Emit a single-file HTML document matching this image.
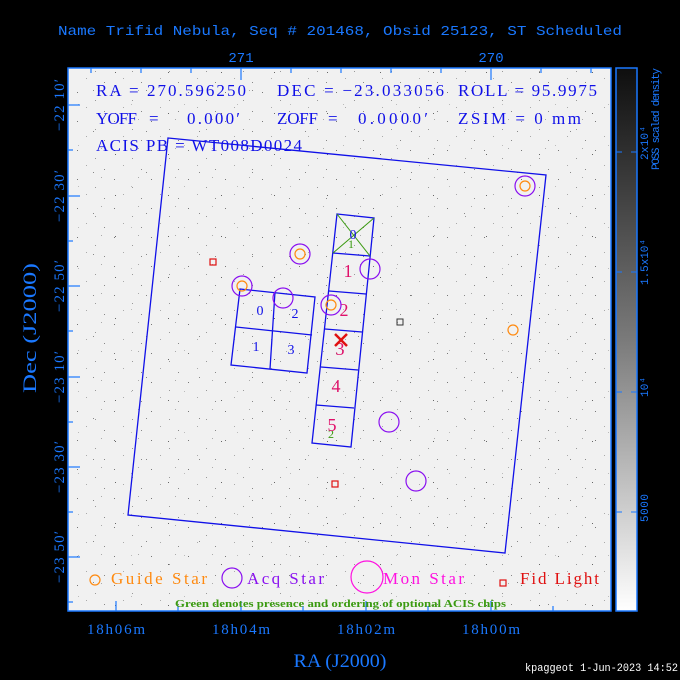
<!DOCTYPE html>
<html><head><meta charset="utf-8"><style>
html,body{margin:0;padding:0;background:#000;}
svg{display:block}
</style></head><body>
<svg width="680" height="680" viewBox="0 0 680 680" xmlns="http://www.w3.org/2000/svg">
<defs>
<linearGradient id="cb" x1="0" y1="0" x2="0" y2="1">
<stop offset="0" stop-color="#0e0e0e"/><stop offset="0.5" stop-color="#7a7a7a"/><stop offset="1" stop-color="#ffffff"/>
</linearGradient>
<pattern id="spk" width="37" height="29" patternUnits="userSpaceOnUse">
<rect x="3" y="5" width="1" height="1" fill="#777"/><rect x="21" y="13" width="1" height="1" fill="#999"/>
<rect x="30" y="24" width="1" height="1" fill="#888"/><rect x="12" y="20" width="1" height="1" fill="#aaa"/>
<rect x="27" y="3" width="1" height="1" fill="#aaa"/>
</pattern>
<pattern id="spk2" width="53" height="41" patternUnits="userSpaceOnUse">
<rect x="9" y="31" width="1" height="1" fill="#666"/><rect x="40" y="8" width="1" height="1" fill="#888"/><rect x="25" y="22" width="1" height="1" fill="#bbb"/>
</pattern>
</defs>
<text x="58" y="35" font-family="Liberation Mono, monospace" font-size="14" fill="#1a78ff" textLength="564" lengthAdjust="spacingAndGlyphs">Name Trifid Nebula, Seq # 201468, Obsid 25123, ST Scheduled</text>
<text x="241" y="62" text-anchor="middle" font-family="Liberation Mono, monospace" font-size="14" fill="#1a78ff">271</text>
<text x="491" y="62" text-anchor="middle" font-family="Liberation Mono, monospace" font-size="14" fill="#1a78ff">270</text>
<!-- plot -->
<rect x="68" y="68" width="543" height="543" fill="#f1f1f1"/>
<rect x="68" y="68" width="543" height="543" fill="url(#spk)"/>
<rect x="68" y="68" width="543" height="543" fill="url(#spk2)"/>
<rect x="68" y="68" width="543" height="543" fill="none" stroke="#1a78ff" stroke-width="1.5"/>
<g stroke="#1a78ff" stroke-width="1.2">
<line x1="116" y1="611" x2="116" y2="601"/><line x1="241" y1="611" x2="241" y2="601"/><line x1="366" y1="611" x2="366" y2="601"/><line x1="491" y1="611" x2="491" y2="601"/>
<line x1="178" y1="611" x2="178" y2="606"/><line x1="303" y1="611" x2="303" y2="606"/><line x1="428" y1="611" x2="428" y2="606"/><line x1="553" y1="611" x2="553" y2="606"/>
<line x1="241" y1="68" x2="241" y2="80"/><line x1="491" y1="68" x2="491" y2="80"/>
<line x1="91" y1="68" x2="91" y2="73"/><line x1="141" y1="68" x2="141" y2="73"/><line x1="191" y1="68" x2="191" y2="73"/><line x1="291" y1="68" x2="291" y2="73"/><line x1="341" y1="68" x2="341" y2="73"/><line x1="391" y1="68" x2="391" y2="73"/><line x1="441" y1="68" x2="441" y2="73"/><line x1="541" y1="68" x2="541" y2="73"/><line x1="591" y1="68" x2="591" y2="73"/>
<line x1="68" y1="105" x2="80" y2="105"/><line x1="68" y1="196" x2="80" y2="196"/><line x1="68" y1="286" x2="80" y2="286"/><line x1="68" y1="377" x2="80" y2="377"/><line x1="68" y1="467" x2="80" y2="467"/><line x1="68" y1="557" x2="80" y2="557"/>
<line x1="68" y1="150" x2="73" y2="150"/><line x1="68" y1="241" x2="73" y2="241"/><line x1="68" y1="331" x2="73" y2="331"/><line x1="68" y1="422" x2="73" y2="422"/><line x1="68" y1="512" x2="73" y2="512"/><line x1="68" y1="602" x2="73" y2="602"/>
</g>
<!-- info text -->
<g font-family="Liberation Serif, serif" font-size="17" fill="#1010e8" lengthAdjust="spacingAndGlyphs">
<text x="96" y="96" textLength="150">RA = 270.596250</text><text x="277" y="96" textLength="167">DEC = −23.033056</text><text x="458" y="96" textLength="139">ROLL = 95.9975</text>
<text x="96" y="124" textLength="41">YOFF</text><text x="149" y="124">=</text><text x="187" y="124" textLength="53">0.000′</text>
<text x="277" y="124" textLength="41">ZOFF</text><text x="328" y="124">=</text><text x="358" y="124" textLength="70">0.0000′</text>
<text x="458" y="124" textLength="123">ZSIM = 0 mm</text>
<text x="96" y="151" textLength="206">ACIS PB = WT008D0024</text>
</g>
<!-- field -->
<g fill="none" stroke="#1010e8" stroke-width="1.3">
<polygon points="168,138 546,175 505,553 128,515"/>
<polygon points="337,214 374,218 351,447 312,443"/>
<line x1="333" y1="253" x2="370" y2="256"/>
<line x1="329" y1="291" x2="366" y2="294"/>
<line x1="325" y1="329" x2="362" y2="332"/>
<line x1="321" y1="367" x2="358" y2="370"/>
<line x1="316" y1="405" x2="354" y2="408"/>
<polygon points="240,289 315,297 307,373 231,365"/>
<line x1="275" y1="292" x2="270" y2="369"/>
<line x1="236" y1="327" x2="312" y2="335"/>
</g>
<g stroke="#3a9a10" stroke-width="1"><line x1="337" y1="214" x2="370" y2="256"/><line x1="374" y1="218" x2="333" y2="253"/></g>
<g font-family="Liberation Serif, serif" font-size="14" fill="#1010e8" text-anchor="middle">
<text x="260" y="315">0</text><text x="295" y="318">2</text><text x="256" y="351">1</text><text x="291" y="354">3</text><text x="353" y="239">0</text>
</g>
<g font-family="Liberation Serif, serif" font-size="12" fill="#3a9a10" text-anchor="middle"><text x="351" y="248">1</text><text x="331" y="438">2</text></g>
<g font-family="Liberation Serif, serif" font-size="18" fill="#e0106a" text-anchor="middle">
<text x="348" y="277">1</text><text x="344" y="316">2</text><text x="340" y="355">3</text><text x="336" y="392">4</text><text x="332" y="431">5</text>
</g>
<g stroke="#e01010" stroke-width="2.5"><line x1="335" y1="334" x2="347" y2="346"/><line x1="347" y1="334" x2="335" y2="346"/></g>
<g fill="none" stroke="#8a10f0" stroke-width="1.2">
<circle cx="300" cy="254" r="10"/><circle cx="242" cy="286" r="10"/><circle cx="283" cy="298" r="10"/><circle cx="370" cy="269" r="10"/><circle cx="331" cy="305" r="10"/><circle cx="389" cy="422" r="10"/><circle cx="416" cy="481" r="10"/><circle cx="525" cy="186" r="10"/>
</g>
<g fill="none" stroke="#ff8a10" stroke-width="1.2">
<circle cx="300" cy="254" r="5"/><circle cx="242" cy="286" r="5"/><circle cx="331" cy="305" r="5"/><circle cx="525" cy="186" r="5"/><circle cx="513" cy="330" r="5"/>
</g>
<g fill="none" stroke="#e01010" stroke-width="1.2"><rect x="210" y="259" width="6" height="6"/><rect x="332" y="481" width="6" height="6"/></g>
<rect x="397" y="319" width="6" height="6" fill="none" stroke="#333" stroke-width="1"/>
<!-- legend -->
<g font-family="Liberation Serif, serif" font-size="17" lengthAdjust="spacingAndGlyphs">
<circle cx="95" cy="580" r="5" fill="none" stroke="#ff8a10" stroke-width="1.2"/>
<text x="111" y="584" fill="#ff8a10" textLength="96">Guide Star</text>
<circle cx="232" cy="578" r="10" fill="none" stroke="#8a10f0" stroke-width="1.2"/>
<text x="247" y="584" fill="#8a10f0" textLength="77">Acq Star</text>
<circle cx="367" cy="577" r="16" fill="none" stroke="#ff10e0" stroke-width="1.2"/>
<text x="383" y="584" fill="#ff10e0" textLength="81">Mon Star</text>
<rect x="500" y="580" width="6" height="6" fill="none" stroke="#e01010" stroke-width="1.2"/>
<text x="520" y="584" fill="#e01010" textLength="79">Fid Light</text>
</g>
<text x="175" y="607" textLength="331" lengthAdjust="spacingAndGlyphs" font-family="Liberation Serif, serif" font-size="11" font-weight="bold" fill="#3a9a10">Green denotes presence and ordering of optional ACIS chips</text>
<!-- axis labels -->
<g font-family="Liberation Serif, serif" font-size="15" fill="#1a78ff" text-anchor="middle" lengthAdjust="spacingAndGlyphs">
<text x="116" y="634" textLength="58">18h06m</text><text x="241" y="634" textLength="58">18h04m</text><text x="366" y="634" textLength="58">18h02m</text><text x="491" y="634" textLength="58">18h00m</text>
</g>
<text x="340" y="667" text-anchor="middle" textLength="93" lengthAdjust="spacingAndGlyphs" font-family="Liberation Serif, serif" font-size="19" fill="#1a78ff">RA (J2000)</text>
<text transform="translate(36,328) rotate(-90)" text-anchor="middle" textLength="130" lengthAdjust="spacingAndGlyphs" font-family="Liberation Serif, serif" font-size="19" fill="#1a78ff">Dec (J2000)</text>
<g font-family="Liberation Serif, serif" font-size="15" fill="#1a78ff" text-anchor="middle" lengthAdjust="spacingAndGlyphs">
<text transform="translate(64,105) rotate(-90)" textLength="52">−22 10′</text>
<text transform="translate(64,196) rotate(-90)" textLength="52">−22 30′</text>
<text transform="translate(64,286) rotate(-90)" textLength="52">−22 50′</text>
<text transform="translate(64,377) rotate(-90)" textLength="52">−23 10′</text>
<text transform="translate(64,467) rotate(-90)" textLength="52">−23 30′</text>
<text transform="translate(64,557) rotate(-90)" textLength="52">−23 50′</text>
</g>
<!-- colorbar -->
<rect x="616" y="68" width="21" height="543" fill="url(#cb)" stroke="#1a78ff" stroke-width="1.5"/>
<g stroke="#1a78ff" stroke-width="1">
<line x1="616" y1="152" x2="622" y2="152"/><line x1="631" y1="152" x2="637" y2="152"/>
<line x1="616" y1="272" x2="622" y2="272"/><line x1="631" y1="272" x2="637" y2="272"/>
<line x1="616" y1="392" x2="622" y2="392"/><line x1="631" y1="392" x2="637" y2="392"/>
<line x1="616" y1="512" x2="622" y2="512"/><line x1="631" y1="512" x2="637" y2="512"/>
</g>
<g font-family="Liberation Mono, monospace" font-size="11" fill="#1a78ff" text-anchor="middle" lengthAdjust="spacingAndGlyphs">
<text transform="translate(648,143) rotate(-90)" textLength="34">2x10⁴</text>
<text transform="translate(648,262) rotate(-90)" textLength="46">1.5x10⁴</text>
<text transform="translate(648,387) rotate(-90)" textLength="20">10⁴</text>
<text transform="translate(648,508) rotate(-90)" textLength="28">5000</text>
<text transform="translate(659,119) rotate(-90)" textLength="102">POSS scaled density</text>
</g>
<text x="525" y="671" textLength="153" lengthAdjust="spacingAndGlyphs" font-family="Liberation Mono, monospace" font-size="11" fill="#fff">kpaggeot  1-Jun-2023 14:52</text>
</svg>
</body></html>
